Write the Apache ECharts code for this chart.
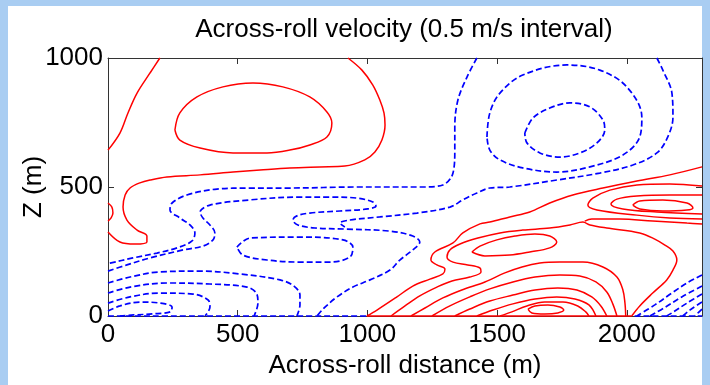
<!DOCTYPE html>
<html>
<head>
<meta charset="utf-8">
<script src="https://cdn.jsdelivr.net/npm/echarts@6/dist/echarts.min.js"></script>
<style>
  html, body { margin: 0; padding: 0; background: #a9cdf2; }
  #chart { width: 710px; height: 385px; }
</style>
</head>
<body>
<div id="chart"></div>
<script>
// Axis ticks
const xTicks = [0, 500, 1000, 1500, 2000];
const zTicks = [0, 500, 1000];
const xMax = 2290;
const zMax = 1000;

// Positive velocity contours (x in m, z in m)
const posUpperLeftEdge = [[200,1000],[162,942],[112,864],[77,787],[46,709],[0,643]];
const posUpperLeftOuter = [[925,1000],[979,953],[1021,895],[1048,837],[1064,787],[1068,740],[1056,682],[1029,636],[990,605],[913,581],[817,578],[701,574],[586,566],[482,558],[355,547],[227,539],[162,527],[123,516],[85,496],[66,469],[58,422],[73,372],[112,333],[150,310],[150,287],[104,279],[46,287],[0,326]];
const posLeftLobe = [[0,438],[15,422],[19,399],[12,380],[0,368]];
const posUpperLeftCore = [[258,721],[277,787],[343,849],[443,888],[559,903],[674,888],[778,849],[844,791],[863,748],[844,694],[778,663],[701,643],[613,632],[482,632],[355,651],[277,682],[258,721]];
const posLowerOuter = [[2290,578],[2166,547],[2039,523],[1908,496],[1792,469],[1703,438],[1626,403],[1549,384],[1472,364],[1434,357],[1368,322],[1330,283],[1260,248],[1245,217],[1268,198],[1299,182],[1291,163],[1241,143],[1175,116],[1114,74],[1037,23],[998,0]];
const posRightOuter = [[2290,504],[2166,512],[2039,508],[1935,488],[1869,457],[1850,430],[1885,411],[2039,391],[2166,380],[2290,376]];
const posRightMid = [[2290,469],[2166,469],[2039,465],[1962,453],[1939,434],[1985,415],[2116,403],[2290,395]];
const posRightCore = [[2023,430],[2050,446],[2139,450],[2232,438],[2255,419],[2232,411],[2139,407],[2050,415],[2023,430]];
const posSaddleArm = [[2290,357],[2232,360],[2100,368],[1973,376],[1865,376],[1838,368]];
const posLower2 = [[1091,0],[1145,39],[1202,78],[1268,112],[1326,136],[1395,151],[1438,171],[1434,186],[1387,198],[1330,209],[1307,229],[1318,256],[1357,279],[1426,302],[1511,322],[1599,333],[1703,341],[1781,353],[1831,364],[1858,353],[1923,341],[2050,322],[2108,298],[2147,275],[2178,252],[2193,217],[2178,178],[2154,140],[2100,89],[2050,39],[2019,0]];
const posMidCore = [[1403,248],[1434,271],[1499,295],[1569,310],[1646,318],[1703,310],[1730,287],[1703,264],[1626,248],[1549,236],[1453,233],[1403,248]];
const posLower3 = [[1168,0],[1222,31],[1291,70],[1364,101],[1453,132],[1530,167],[1596,190],[1665,205],[1742,209],[1831,209],[1908,190],[1962,151],[1985,101],[1993,50],[1996,0]];
const posLower4 = [[1249,0],[1318,39],[1395,74],[1472,105],[1561,132],[1646,151],[1742,159],[1819,155],[1881,132],[1923,93],[1946,47],[1962,0]];
const posLower5 = [[1337,0],[1395,27],[1472,58],[1561,81],[1646,101],[1734,109],[1808,101],[1865,74],[1900,39],[1923,0]];
const posLower6 = [[1422,0],[1484,23],[1561,47],[1646,66],[1730,74],[1800,66],[1854,43],[1881,0]];
const posLower7 = [[1511,0],[1557,16],[1615,39],[1684,54],[1754,54],[1811,39],[1842,16],[1854,0]];
const posLowerCore = [[1619,27],[1646,39],[1696,43],[1742,35],[1757,23],[1734,12],[1684,8],[1634,12],[1619,27]];
const posFloor = [[998,0],[2019,0]];

// Negative velocity contours
const negUpper = [[1422,1000],[1384,926],[1349,837],[1337,733],[1337,643],[1330,554],[1291,508],[1214,500],[960,500],[701,496],[547,496],[420,492],[304,469],[247,438],[239,411],[277,380],[316,353],[335,322],[324,291],[266,264],[189,244],[96,225],[8,205],[0,203]];
const negRightArm = [[2116,1000],[2139,953],[2174,864],[2178,771],[2158,694],[2116,632],[2023,585],[1896,554],[1730,527],[1549,500],[1472,496],[1422,477],[1368,450],[1318,422],[1191,399],[1048,384],[933,372],[894,360],[913,345]];
const negMiddle = [[0,174],[73,198],[162,225],[289,256],[366,271],[405,295],[412,322],[393,353],[366,380],[355,403],[393,430],[547,450],[740,461],[856,461],[960,457],[1021,442],[1033,426],[1002,415],[894,407],[778,399],[728,388],[713,372],[732,353],[798,341],[913,337],[1087,329],[1175,310],[1202,287],[1175,256],[1125,217],[1087,178],[1010,140],[944,112],[883,74],[829,27],[806,0]];
const negMidCore = [[497,267],[547,302],[740,306],[906,295],[944,267],[933,229],[856,209],[740,209],[613,217],[520,236],[497,267]];
const negEddyOuter = [[1461,694],[1472,787],[1511,864],[1599,934],[1769,973],[1896,953],[2000,888],[2058,771],[2050,694],[1985,624],[1858,578],[1730,558],[1599,574],[1511,605],[1472,643],[1461,694]];
const negEddyCore = [[1607,709],[1638,767],[1703,806],[1781,826],[1858,810],[1908,760],[1915,721],[1885,671],[1819,632],[1742,616],[1665,632],[1615,671],[1607,709]];
const negLow1 = [[0,128],[85,151],[200,171],[355,174],[509,163],[663,140],[717,116],[740,81],[740,43],[728,0]];
const negLow2 = [[0,89],[85,112],[227,128],[393,124],[536,112],[574,85],[578,50],[563,0]];
const negLow3 = [[0,50],[85,74],[200,89],[328,85],[386,62],[393,35],[374,0]];
const negLowCore = [[0,19],[46,39],[123,54],[200,50],[247,35],[240,16],[170,8],[100,4],[46,0]];
const negCorner1 = [[2290,159],[2232,128],[2174,89],[2108,43],[2039,0]];
const negCorner2 = [[2290,116],[2212,74],[2143,31],[2089,0]];
const negCorner3 = [[2290,85],[2232,50],[2174,12],[2154,0]];
const negCorner4 = [[2290,54],[2243,23],[2216,0]];
const negCorner5 = [[2290,27],[2262,0]];
const negFloorLeft = [[0,0],[998,0]];
const negFloorRight = [[2030,0],[2290,0]];

const positive = [posUpperLeftEdge, posUpperLeftOuter, posLeftLobe, posUpperLeftCore,
  posLowerOuter, posRightOuter, posRightMid, posRightCore, posSaddleArm, posLower2,
  posMidCore, posLower3, posLower4, posLower5, posLower6, posLower7, posLowerCore, posFloor];
const negative = [negUpper, negRightArm, negMiddle, negMidCore, negEddyOuter, negEddyCore,
  negLow1, negLow2, negLow3, negLowCore, negCorner1, negCorner2, negCorner3, negCorner4,
  negCorner5, negFloorLeft, negFloorRight];

const FONT = 'Liberation Sans, Arial, sans-serif';

function contourSeries(points, color, dashed) {
  return {
    type: 'line',
    data: points,
    showSymbol: false,
    symbol: 'none',
    smooth: 0.35,
    clip: false,
    silent: true,
    animation: false,
    lineStyle: { color: color, width: dashed ? 1.7 : 1.5, type: dashed ? [6, 3] : 'solid' },
    z: dashed ? 3 : 4
  };
}

const series = []
  .concat(positive.map(p => contourSeries(p, '#ff0000', false)))
  .concat(negative.map(p => contourSeries(p, '#0000ff', true)));

function frameAxis(dim, pos, withLabels) {
  const ticks = dim === 'x' ? xTicks : zTicks;
  return {
    type: 'value',
    position: pos,
    min: 0,
    max: dim === 'x' ? xMax : zMax,
    interval: 500,
    axisLine: { show: true, onZero: false, lineStyle: { color: '#333', width: 1 } },
    axisTick: { show: true, inside: true, length: 6, lineStyle: { color: '#333' }, customValues: ticks },
    axisLabel: {
      show: withLabels,
      customValues: ticks,
      formatter: v => String(v),
      color: '#000',
      fontFamily: FONT,
      fontSize: 26,
      margin: dim === 'x' ? 6 : 5
    },
    splitLine: { show: false }
  };
}

const chart = echarts.init(document.getElementById('chart'), null, { renderer: 'canvas' });
const xBottom = frameAxis('x', 'bottom', true);
xBottom.name = 'Across-roll distance (m)';
xBottom.nameLocation = 'middle';
xBottom.nameGap = 37;
xBottom.nameMoveOverlap = false;
xBottom.nameTextStyle = { color: '#000', fontFamily: FONT, fontSize: 26 };
const zLeft = frameAxis('y', 'left', true);
zLeft.name = 'Z (m)';
zLeft.nameLocation = 'middle';
zLeft.nameGap = 61;
zLeft.nameMoveOverlap = false;
zLeft.nameTextStyle = { color: '#000', fontFamily: FONT, fontSize: 26 };

chart.setOption({
  backgroundColor: '#a9cdf2',
  animation: false,
  graphic: [
    { type: 'rect', shape: { x: 8, y: 6, width: 694, height: 380 }, style: { fill: '#ffffff' }, z: -10, silent: true },
    { type: 'text', x: 404, y: 30, style: { text: 'Across-roll velocity (0.5 m/s interval)', fill: '#000', font: '26px ' + FONT, textAlign: 'center', textVerticalAlign: 'middle' }, silent: true }
  ],
  grid: { left: 108, right: 8, top: 58, bottom: 69, containLabel: false, outerBoundsMode: 'none' },
  xAxis: [xBottom, frameAxis('x', 'top', false)],
  yAxis: [zLeft, frameAxis('y', 'right', false)],
  series: series
});
</script>
</body>
</html>
